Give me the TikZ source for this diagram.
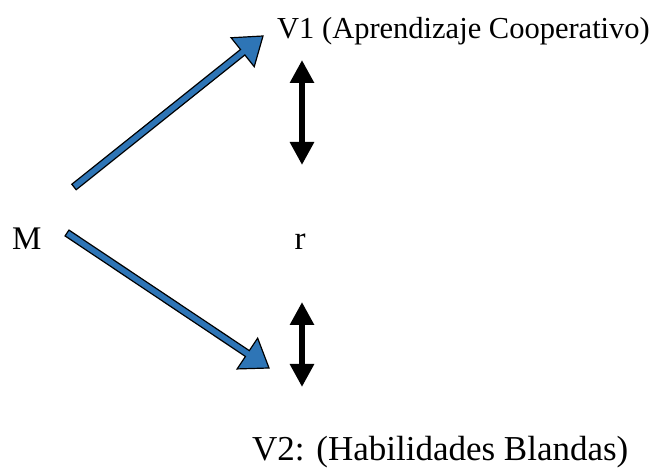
\documentclass[tikz,border=0pt]{standalone}
\usepackage{fontspec}
\setmainfont{Liberation Serif}
\usepackage{tikz}
\usetikzlibrary{positioning, arrows.meta, calc}

\definecolor{arrowblue}{RGB}{46,117,182}
\newcommand{\shaftw}{3.5pt}
\newcommand{\headw}{18.5pt}
\newcommand{\headl}{26pt}

\begin{document}
\begin{tikzpicture}[
    x=1pt, y=1pt,
    label/.style={
        inner sep=0pt,
        font=\fontsize{33}{40}\selectfont
    },
    blockarrow/.style={
        draw=black,
        fill=arrowblue,
        line width=1.2pt,
        line join=miter,
        to path={
            ($(\tikztostart)!\shaftw!90:(\tikztotarget)$) --
            ($(\tikztotarget)!\headl!(\tikztostart)!\shaftw!90:(\tikztotarget)$) --
            ($(\tikztotarget)!\headl!(\tikztostart)!\headw!90:(\tikztotarget)$) --
            (\tikztotarget) --
            ($(\tikztotarget)!\headl!(\tikztostart)!\headw!-90:(\tikztotarget)$) --
            ($(\tikztotarget)!\headl!(\tikztostart)!\shaftw!-90:(\tikztotarget)$) --
            ($(\tikztostart)!\shaftw!-90:(\tikztotarget)$) -- cycle
        }
    },
    relation/.style={
        line width=6pt,
        {Triangle[length=23pt, width=23pt]}-{Triangle[length=23pt, width=23pt]}
    }
]

\useasboundingbox (0,0) rectangle (670,468);

% ===== Textos =====
\node[label, anchor=base west, font=\fontsize{30.5}{37}\selectfont] (v1) at (277,429) {V1 (Aprendizaje Cooperativo)};
\node[label, anchor=base west] (m) at (12,218) {M};
\node[label, anchor=base] (r) at (300,218) {r};
\node[label, anchor=base west, font=\fontsize{35}{42}\selectfont] (v2) at (252,7) {V2: (Habilidades Blandas)};

% ===== Puntos de las flechas =====
\coordinate (m1) at (74,281);
\coordinate (v1tip) at (263,432);
\coordinate (m2) at (67,235);
\coordinate (v2tip) at (269,100);
\coordinate (r1top) at (302,408);
\coordinate (r1bot) at (302,303);
\coordinate (r2top) at (302,166);
\coordinate (r2bot) at (302,81);

% ===== Flechas =====
\path[blockarrow] (m1) to (v1tip);
\path[blockarrow] (m2) to (v2tip);

\draw[relation] (r1top) -- (r1bot);
\draw[relation] (r2top) -- (r2bot);

\end{tikzpicture}
\end{document}
